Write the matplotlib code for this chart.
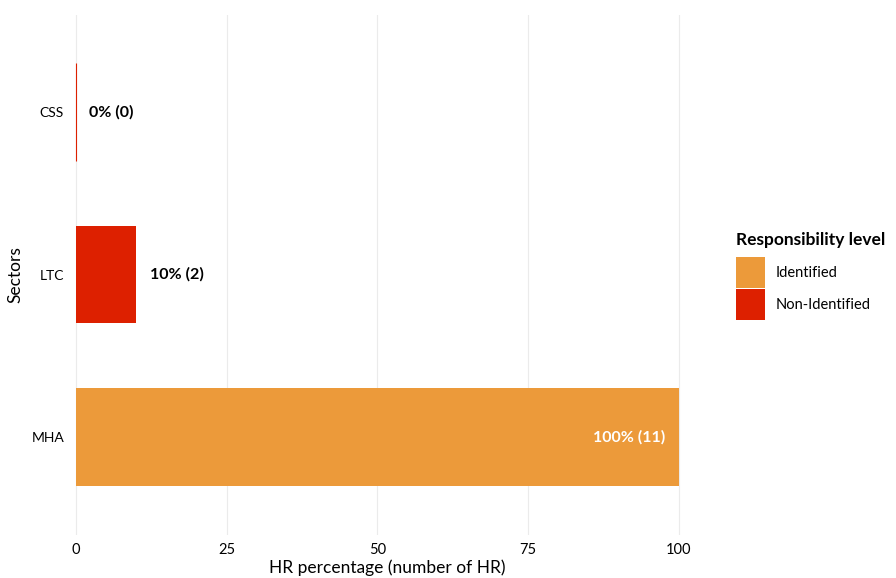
import matplotlib
matplotlib.use("Agg")
import matplotlib.pyplot as plt
from matplotlib.patches import Patch

plt.rcParams["font.family"] = ["Lato", "DejaVu Sans"]

# ---- data ----
sectors = ["MHA", "LTC", "CSS"]
pct = [100, 10, 0]
counts = [11, 2, 0]
level = ["Identified", "Non-Identified", "Non-Identified"]
level_names = ["Identified", "Non-Identified"]
level_colors = {"Identified": "#EC9A3A", "Non-Identified": "#DD2000"}
x_ticks = [0, 25, 50, 75, 100]

fig = plt.figure(figsize=(8.96, 5.78), dpi=100)
ax = fig.add_axes([72.4 / 896, 43.5 / 578, 630.6 / 896, 520 / 578])

ypos = list(range(1, len(sectors) + 1))
for y, v, n, lv in zip(ypos, pct, counts, level):
    col = level_colors[lv]
    ax.barh(y, v, height=0.6, color=col, edgecolor=col if v == 0 else "none",
            linewidth=0.8, zorder=2)
    lab = f"{v}% ({n})"
    if v >= 50:
        ax.text(v - 2.3, y, lab, ha="right", va="center", color="white",
                fontsize=11.5, fontweight="bold", zorder=3)
    else:
        ax.text(v + 2.2, y, lab, ha="left", va="center", color="black",
                fontsize=11.5, fontweight="bold", zorder=3)

ax.set_xlim(-0.6, 104)
ax.set_ylim(0.4, 3.6)
ax.set_yticks(ypos)
ax.set_yticklabels(sectors, fontsize=10)
ax.set_xticks(x_ticks)
ax.set_xticklabels([str(t) for t in x_ticks], fontsize=10.5)
ax.tick_params(length=0, pad=6)
ax.grid(axis="x", color="#EBEBEB", linewidth=0.8, zorder=0)
ax.set_axisbelow(True)
for s in ax.spines.values():
    s.set_visible(False)
ax.set_xlabel("HR percentage (number of HR)", fontsize=12.5, labelpad=2)
ax.set_ylabel("Sectors", fontsize=12.5, labelpad=6)

# legend: title placed on its own so the gap to the keys matches
fig.text(736 / 896, 1 - 240 / 578, "Responsibility level", ha="left",
         va="center", fontsize=12.5, fontweight="bold")
handles = [Patch(facecolor=level_colors[n], edgecolor="none") for n in level_names]
leg = fig.legend(handles, level_names,
                 loc="upper left", bbox_to_anchor=(736 / 896, 1 - 257 / 578),
                 frameon=False, fontsize=10.5,
                 handlelength=2.0, handleheight=2.9, labelspacing=0.05,
                 handletextpad=0.7, borderaxespad=0, borderpad=0)

fig.savefig("out.png", dpi=100)
